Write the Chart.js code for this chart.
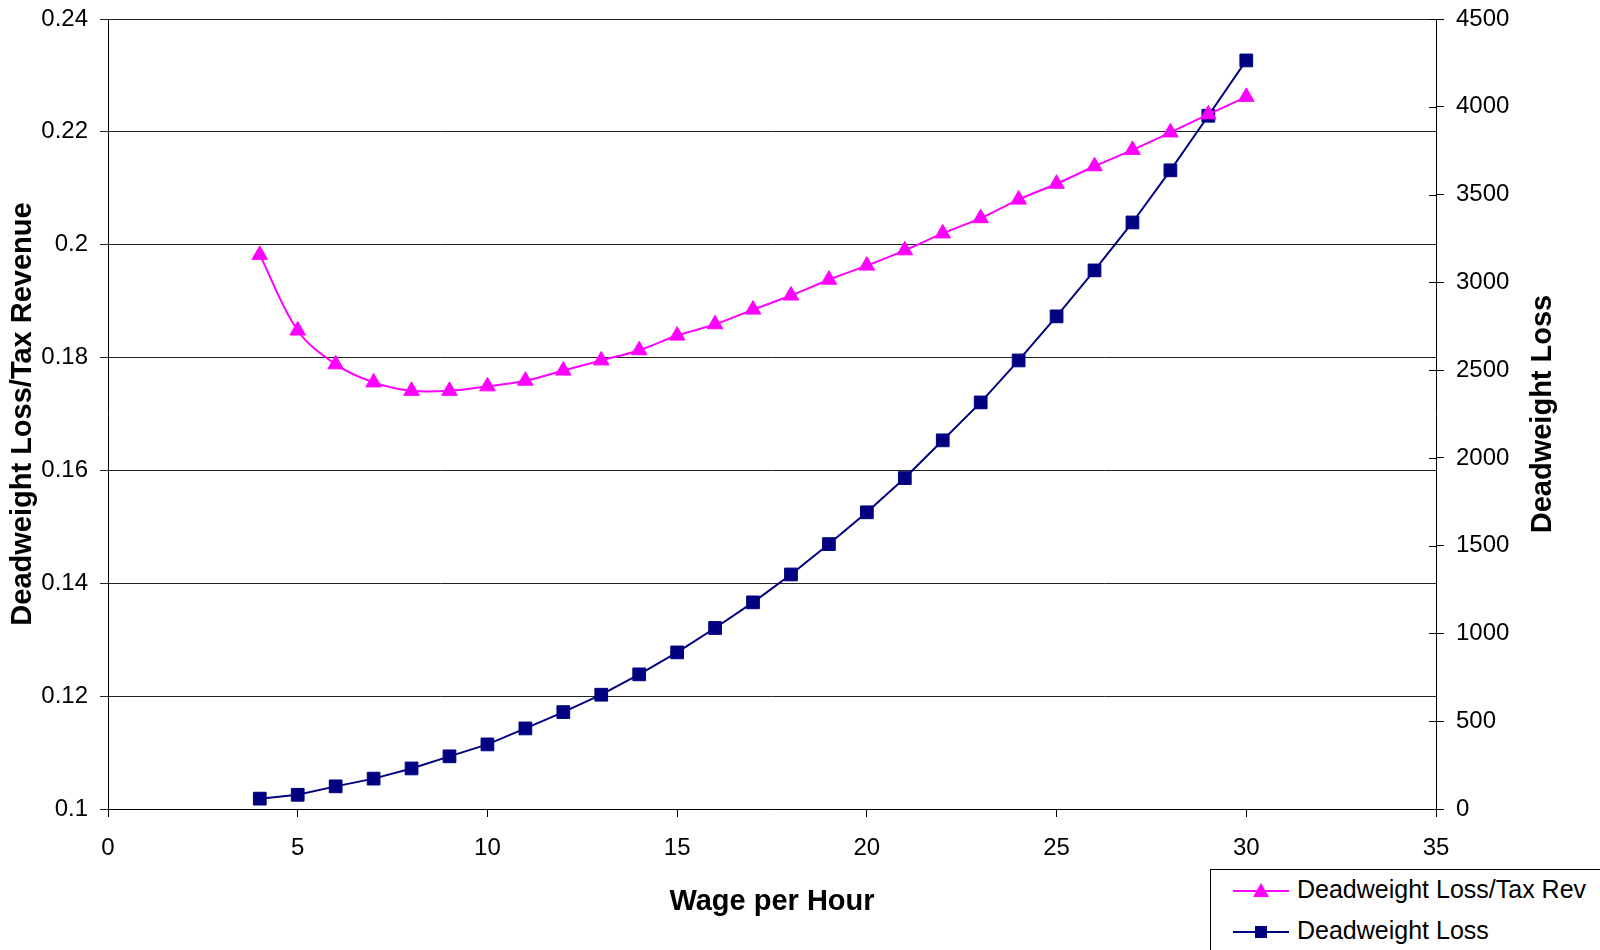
<!DOCTYPE html>
<html lang="en">
<head>
  <meta charset="UTF-8" />
  <title>Deadweight Loss vs Wage</title>
  <script src="https://cdn.jsdelivr.net/npm/chart.js"></script>
  <style>
    body {
      margin: 0;
      width: 1600px;
      height: 950px;
      overflow: hidden;
      background: #fff;
      font-family: "Liberation Sans", Arial, sans-serif;
    }
    #wrap {
      position: relative;
      width: 1600px;
      height: 950px;
    }
    #legend {
      position: absolute;
      left: 1210px;
      top: 869px;
      width: 500px;
      height: 200px;
      border: 1px solid #000;
      background: #fff;
      font-size: 25px;
      color: #000;
    }
    .item {
      position: absolute;
      left: 22px;
      height: 30px;
      line-height: 30px;
      white-space: nowrap;
    }
    .item svg {
      vertical-align: middle;
      margin-right: 6px;
    }
  </style>
</head>
<body>
  <div id="wrap">
    <canvas id="chart" width="1600" height="950"></canvas>
    <div id="legend">
      <div class="item" style="top:4px;">
        <svg width="58" height="20"><line x1="0" y1="10" x2="56" y2="10" stroke="#FF00FF" stroke-width="2"/><polygon points="28,2 36,16 20,16" fill="#FF00FF"/></svg>Deadweight Loss/Tax Rev
      </div>
      <div class="item" style="top:45px;">
        <svg width="58" height="20"><line x1="0" y1="10" x2="56" y2="10" stroke="#000080" stroke-width="2"/><rect x="22" y="4" width="12" height="12" fill="#000080"/></svg>Deadweight Loss
      </div>
    </div>
  </div>

  <script>
    // values
    const wages = [4, 5, 6, 7, 8, 9, 10, 11, 12, 13, 14, 15, 16, 17, 18, 19, 20, 21, 22, 23, 24, 25, 26, 27, 28, 29, 30];
    const lossRatio = [0.1982, 0.1848, 0.1788, 0.1756, 0.1741, 0.1741, 0.1749, 0.1759, 0.1777, 0.1795, 0.1813, 0.1839, 0.1859, 0.1885,
                       0.1910, 0.1938, 0.1963, 0.1990, 0.2020, 0.2047, 0.2080, 0.2108, 0.2139, 0.2168, 0.2199, 0.2231, 0.2262];
    const deadweightLoss = [59, 81, 129, 173, 231, 300, 368, 459, 552, 651, 767, 892, 1031, 1177, 1336, 1509, 1690, 1885,
                            2100, 2316, 2555, 2806, 3068, 3341, 3638, 3949, 4264];

    const seriesNames = ['Deadweight Loss/Tax Rev', 'Deadweight Loss'];
    const xTitle = 'Wage per Hour';
    const leftTitle = 'Deadweight Loss/Tax Revenue';
    const rightTitle = 'Deadweight Loss';

    Chart.defaults.font.family = '"Liberation Sans", Arial, sans-serif';
    Chart.defaults.color = '#000';

    // right axis title reads bottom-to-top, and its ticks cross the axis line
    const extras = {
      id: 'extras',
      afterDraw(chart) {
        const ctx = chart.ctx;
        const y1 = chart.scales.y1;
        ctx.save();
        ctx.strokeStyle = '#000';
        ctx.lineWidth = 1;
        y1.ticks.forEach((t, i) => {
          const py = Math.round(y1.getPixelForTick(i)) + 0.5;
          ctx.beginPath();
          ctx.moveTo(y1.left - 7, py);
          ctx.lineTo(y1.left, py);
          ctx.stroke();
        });
        ctx.translate(1543, 414);
        ctx.rotate(-Math.PI / 2);
        ctx.font = 'bold 29px "Liberation Sans", Arial, sans-serif';
        ctx.fillStyle = '#000';
        ctx.textAlign = 'center';
        ctx.textBaseline = 'middle';
        ctx.fillText(rightTitle, 0, 0);
        ctx.restore();
      }
    };

    const tickFont = { size: 24 };
    const titleFont = { size: 29, weight: 'bold' };

    // fixed axis boxes so the plot area lands where the reference has it
    function fixBox(size, horizontal) {
      return s => {
        if (horizontal) s.height = size; else s.width = size;
        s.paddingTop = 0;
        s.paddingBottom = 0;
        s.paddingLeft = 0;
        s.paddingRight = 0;
      };
    }

    new Chart(document.getElementById('chart').getContext('2d'), {
      type: 'line',
      data: {
        datasets: [
          {
            label: seriesNames[0],
            data: wages.map((w, i) => ({ x: w, y: lossRatio[i] })),
            yAxisID: 'y',
            borderColor: '#FF00FF',
            backgroundColor: '#FF00FF',
            borderWidth: 2,
            pointStyle: 'triangle',
            pointRadius: 9,
            pointBorderWidth: 1,
            tension: 0.35,
            fill: false
          },
          {
            label: seriesNames[1],
            data: wages.map((w, i) => ({ x: w, y: deadweightLoss[i] })),
            yAxisID: 'y1',
            borderColor: '#000080',
            backgroundColor: '#000080',
            borderWidth: 2,
            pointStyle: 'rect',
            pointRadius: 9,
            pointBorderWidth: 1,
            tension: 0,
            fill: false
          }
        ]
      },
      options: {
        responsive: false,
        animation: false,
        devicePixelRatio: 1,
        layout: { padding: { top: 19, left: 0, right: 0, bottom: 0 } },
        plugins: {
          legend: { display: false },
          tooltip: { enabled: false }
        },
        scales: {
          x: {
            type: 'linear',
            min: 0,
            max: 35,
            ticks: { stepSize: 5, font: tickFont, padding: 17, maxRotation: 0 },
            grid: { drawOnChartArea: false, drawTicks: true, tickLength: 8, color: '#000' },
            border: { display: true, color: '#000', width: 1 },
            title: { display: true, text: xTitle, font: titleFont, padding: { top: 0, bottom: 31 } },
            afterFit: fixBox(141, true)
          },
          y: {
            position: 'left',
            min: 0.1,
            max: 0.24,
            ticks: { stepSize: 0.02, font: tickFont, padding: 12, callback: v => String(+v.toFixed(2)) },
            grid: { color: '#222', tickLength: 8, lineWidth: 1 },
            border: { display: true, color: '#000', width: 1 },
            title: { display: true, text: leftTitle, font: titleFont, padding: { top: 6, bottom: 0 } },
            afterFit: fixBox(108, false)
          },
          y1: {
            position: 'right',
            min: 0,
            max: 4500,
            ticks: { stepSize: 500, font: tickFont, padding: 12, callback: v => String(v) },
            grid: { drawOnChartArea: false, tickLength: 8, color: '#000' },
            border: { display: true, color: '#000', width: 1 },
            afterFit: fixBox(164, false)
          }
        }
      },
      plugins: [extras]
    });
  </script>
</body>
</html>
